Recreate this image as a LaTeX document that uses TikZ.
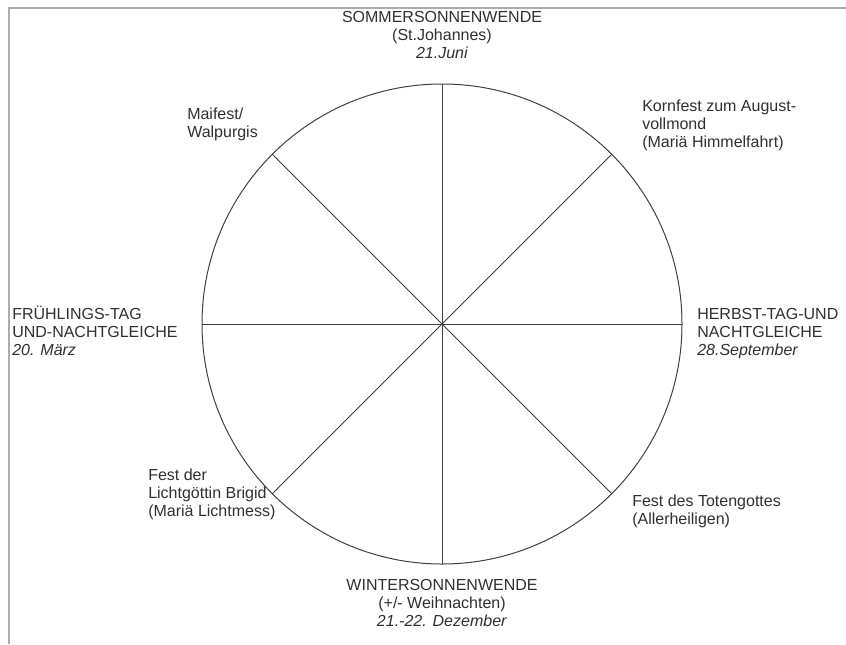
\documentclass[tikz,border=0pt]{standalone}
\usepackage{fontspec}
\setmainfont{Liberation Sans}
\definecolor{FrameGrey}{HTML}{ABABB0}
\definecolor{WheelLine}{HTML}{404040}
\definecolor{LabelText}{HTML}{303030}

\begin{document}
\begin{tikzpicture}[x=0.75pt, y=-0.75pt,
        lbl/.style={text=LabelText, inner sep=0pt, font=\fontsize{12}{13.5}\selectfont},
        lleft/.style={lbl, align=left, anchor=north west},
        lmid/.style={lbl, align=center, anchor=north},
        wheel/.style={circle, draw=WheelLine, line width=0.75pt, inner sep=0pt, outer sep=0pt, minimum size=360pt},
        spoke/.style={WheelLine, line width=0.75pt}
    ]
        \useasboundingbox (0,0) rectangle (846,644);
        \draw[FrameGrey, line width=2pt] (9,644) -- (9,8) -- (846,8);

        \node[wheel] (w) at (442,324) {};
        \draw[spoke] (w.north) -- (w.south);
        \draw[spoke] (w.west) -- (w.east);
        \draw[spoke] (w.45) -- (w.225);
        \draw[spoke] (w.135) -- (w.315);

        \node[lmid] (summer) at (442,11) {SOMMERSONNENWENDE\\(St.Johannes)\\\textit{21.Juni}};
        \node[lleft] (mai) at (187,108) {Maifest/\\Walpurgis};
        \node[lleft] (korn) at (642,100) {Kornfest zum August-\\vollmond\\(Mariä Himmelfahrt)};
        \node[lleft] (spring) at (12,306) {FRÜHLINGS-TAG\\UND-NACHTGLEICHE\\\textit{20. März}};
        \node[lleft] (autumn) at (697,308) {HERBST-TAG-UND\\NACHTGLEICHE\\\textit{28.September}};
        \node[lleft] (brigid) at (148,469) {Fest der\\Lichtgöttin Brigid\\(Mariä Lichtmess)};
        \node[lleft] (toten) at (632,495) {Fest des Totengottes\\(Allerheiligen)};
        \node[lmid] (winter) at (442,579) {WINTERSONNENWENDE\\(+/- Weihnachten)\\\textit{21.-22. Dezember}};
    \end{tikzpicture}
\end{document}
